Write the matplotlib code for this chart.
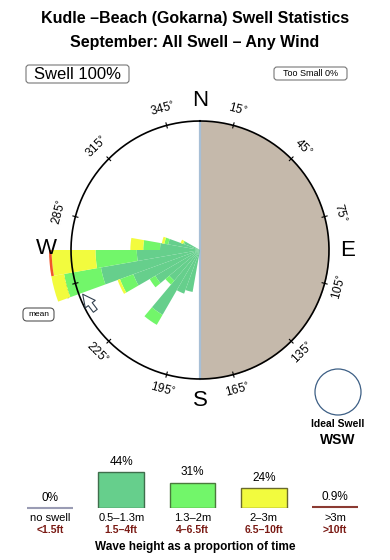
import numpy as np
import matplotlib
matplotlib.use("Agg")
import matplotlib.pyplot as plt
from matplotlib.patches import FancyBboxPatch, Circle

plt.rcParams['font.family'] = ['Liberation Sans', 'DejaVu Sans']

# ---------------- data ----------------
title_lines = ["Kudle \u2013Beach (Gokarna) Swell Statistics",
               "September: All Swell \u2013 Any Wind"]
swell_pct = 100
too_small_pct = 0
ideal_swell = "WSW"

# swell rose: direction bins (deg, from) and radial segment lengths
# (fraction of outer circle) for each wave-height class
rose_dirs = [195, 205, 215, 225, 235, 245, 255, 265, 275, 285, 295]
rose_small = [0.33, 0.36, 0.58, 0.31, 0.40, 0.55, 0.78, 0.49, 0.31, 0.25, 0.13]   # 0.5-1.3m
rose_mid   = [0.00, 0.00, 0.09, 0.04, 0.05, 0.11, 0.29, 0.32, 0.13, 0.03, 0.01]   # 1.3-2m
rose_large = [0.00, 0.00, 0.00, 0.00, 0.00, 0.02, 0.10, 0.34, 0.10, 0.02, 0.02]   # 2-3m
rose_huge  = [0.00, 0.00, 0.00, 0.00, 0.00, 0.00, 0.00, 0.02, 0.00, 0.00, 0.00]   # >3m

deg_ticks = [15, 45, 75, 105, 135, 165, 195, 225, 255, 285, 315, 345]
cardinals = ["N", "E", "S", "W"]

leg_pct = [0, 44, 31, 24, 0.9]
leg_pct_labels = ["0%", "44%", "31%", "24%", "0.9%"]
leg_m = ["no swell", "0.5\u20131.3m", "1.3\u20132m", "2\u20133m", ">3m"]
leg_ft = ["<1.5ft", "1.5\u20134ft", "4\u20136.5ft", "6.5\u201310ft", ">10ft"]

col_small = '#66cf8c'
col_mid = '#72f66a'
col_large = '#f2fb3e'
col_huge = '#f0552a'
land_col = '#c5b9ab'
ft_col = '#7a1a14'

W, H = 390, 560
fig = plt.figure(figsize=(3.9, 5.6), dpi=100)

# ---------------- polar rose ----------------
cx, cy, R = 200, 250, 129
rmax = 1.25
rad = R * rmax
ax = fig.add_axes([(cx - rad) / W, (H - cy - rad) / H, 2 * rad / W, 2 * rad / H],
                  projection='polar')
ax.set_theta_zero_location('N')
ax.set_theta_direction(-1)
ax.set_ylim(0, rmax)
ax.axis('off')

th_land = np.linspace(0, np.pi, 200)
ax.fill_between(th_land, 0, 1, color=land_col, lw=0, zorder=1)
ax.plot([0, 0], [0, 1], color='#a7bfd6', lw=1.6, zorder=2)
ax.plot([np.pi, np.pi], [0, 1], color='#a7bfd6', lw=1.6, zorder=2)

# degree labels (under bars)
for d in deg_ticks:
    th = np.deg2rad(d)
    rot = (-d) % 360
    if rot > 180:
        rot -= 360
    if rot > 90:
        rot -= 180
    elif rot < -90:
        rot += 180
    ax.text(th, 1.125, f"{d}$^{{\\circ}}$", rotation=rot, rotation_mode='anchor',
            ha='center', va='center', fontsize=8.5, zorder=3)
    ax.plot([th, th], [0.98, 1.02], color='black', lw=0.8, zorder=6)

theta = np.deg2rad(rose_dirs)
width = np.deg2rad(10)
s = np.array(rose_small)
m = np.array(rose_mid)
l = np.array(rose_large)
h = np.array(rose_huge)
ax.bar(theta, s, width=width, bottom=0, color=col_small, lw=0, zorder=4)
ax.bar(theta, m, width=width, bottom=s, color=col_mid, lw=0, zorder=4)
ax.bar(theta, l, width=width, bottom=s + m, color=col_large, lw=0, zorder=4)
ax.bar(theta, h, width=width, bottom=s + m + l, color=col_huge, lw=0, zorder=4)

tc = np.linspace(0, 2 * np.pi, 400)
ax.plot(tc, np.ones_like(tc), color='black', lw=1.2, zorder=5)

# ---------------- overlay (pixel coordinates) ----------------
ov = fig.add_axes([0, 0, 1, 1])
ov.set_xlim(0, W)
ov.set_ylim(H, 0)
ov.axis('off')

ov.text(195, 18, title_lines[0], ha='center', va='center', fontsize=11.5, fontweight='bold')
ov.text(195, 42, title_lines[1], ha='center', va='center', fontsize=11.5, fontweight='bold')

ov.add_patch(FancyBboxPatch((26, 65), 103, 18, boxstyle='round,pad=0,rounding_size=3',
                            fc='white', ec='#777777', lw=0.8))
ov.text(77.5, 74.5, f"Swell {swell_pct}%", ha='center', va='center', fontsize=12)
ov.add_patch(FancyBboxPatch((274, 67), 73, 13, boxstyle='round,pad=0,rounding_size=3',
                            fc='white', ec='#777777', lw=0.8))
ov.text(310.5, 73.5, f"Too Small {too_small_pct}%", ha='center', va='center', fontsize=6.5)

# cardinal letters
ov.text(200, 101, "N", ha='center', va='center', fontsize=16)
ov.text(348, 250, "E", ha='center', va='center', fontsize=16)
ov.text(200, 401, "S", ha='center', va='center', fontsize=16)
ov.text(46, 249, "W", ha='center', va='center', fontsize=16)

# mean
ov.add_patch(FancyBboxPatch((23, 308), 31, 13, boxstyle='round,pad=0,rounding_size=4',
                            fc='white', ec='#555555', lw=0.8))
ov.text(38.5, 314.5, "mean", ha='center', va='center', fontsize=6)
ov.annotate('', xy=(81, 292), xytext=(97, 313),
            arrowprops=dict(arrowstyle='simple,head_width=0.9,head_length=0.9,tail_width=0.35',
                            fc='white', ec='#33414f', lw=0.8))

# ideal swell
ov.add_patch(Circle((338, 392), 23, fc='white', ec='#3d5f85', lw=0.9))
ov.text(338, 424, "Ideal Swell", ha='center', va='center', fontsize=7.5, fontweight='bold')
ov.text(338, 440, ideal_swell, ha='center', va='center', fontsize=10, fontweight='bold')

# ---------------- height legend ----------------
unit = 71.25
x0 = 50
lg = fig.add_axes([(x0 - 0.6 * unit) / W, (H - 508) / H, 5.2 * unit / W, 41 / H])
lg.set_xlim(-0.6, 4.6)
lg.set_ylim(0, 50)
lg.axis('off')
xs = np.arange(len(leg_pct))
box_cols = ['#9a9cb4', col_small, col_mid, col_large, '#8b3a32']
box_edges = ['#9a9cb4', '#3f6e4c', '#4a7a3c', '#6a6a2c', '#8b3a32']
bw = 0.645
for i, v in enumerate(leg_pct):
    if v >= 5:
        lg.bar(xs[i], v, width=bw, color=box_cols[i], edgecolor=box_edges[i], lw=1)
    else:
        lg.plot([xs[i] - bw / 2, xs[i] + bw / 2], [v, v], color=box_cols[i], lw=1.5,
                solid_capstyle='butt', clip_on=False)
    lg.annotate(leg_pct_labels[i], xy=(xs[i], v), xytext=(0, 3), textcoords='offset points',
                ha='center', va='bottom', fontsize=8.5, annotation_clip=False)
    lg.annotate(leg_m[i], xy=(xs[i], 0), xytext=(0, -7.5), textcoords='offset points',
                ha='center', va='center', fontsize=8, annotation_clip=False)
    lg.annotate(leg_ft[i], xy=(xs[i], 0), xytext=(0, -16), textcoords='offset points',
                ha='center', va='center', fontsize=7.5, color=ft_col, fontweight='bold',
                annotation_clip=False)

ov.text(195, 547, "Wave height as a proportion of time", ha='center', va='center',
        fontsize=8.5, fontweight='bold')

fig.savefig("out.png", dpi=100)
